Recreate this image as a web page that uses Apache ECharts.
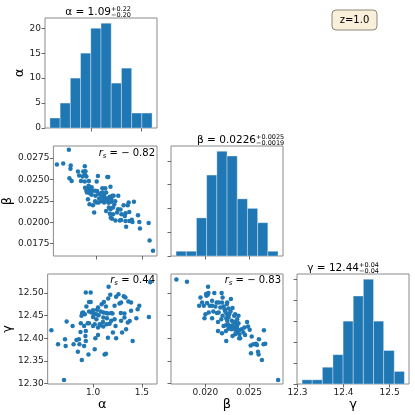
<!DOCTYPE html>
<html>
<head>
<meta charset="utf-8">
<script src="https://cdn.jsdelivr.net/npm/echarts@6/dist/echarts.min.js"></script>
<style>
html, body { margin: 0; padding: 0; background: #fff; }
#main { width: 415px; height: 415px; }
</style>
</head>
<body>
<div id="main"></div>
<script>
// histogram bins (edges) and counts
var alphaEdges = [0.585, 0.687, 0.789, 0.891, 0.993, 1.095, 1.197, 1.299, 1.401, 1.503, 1.605];
var alphaCounts = [2, 5, 10, 15, 20, 21, 9, 12, 3, 3];
var betaEdges = [0.01663, 0.01780, 0.01897, 0.02014, 0.02131, 0.02248, 0.02365, 0.02482, 0.02599, 0.02716, 0.02833];
var betaCounts = [1, 1, 8, 17, 22, 21, 12, 10, 7, 1];
var gammaEdges = [12.310, 12.332, 12.354, 12.377, 12.399, 12.421, 12.443, 12.465, 12.487, 12.510, 12.532];
var gammaCounts = [1, 1, 4, 7, 15, 21, 25, 15, 8, 3];

// axis ranges and ticks
var alphaRange = [0.536, 1.654];
var betaRange = [0.01605, 0.02890];
var gammaRange = [12.299, 12.542];
var alphaTicks = [1.0, 1.5];
var betaXTicks = [0.020, 0.025];
var betaYTicks = [0.0175, 0.0200, 0.0225, 0.0250, 0.0275];
var gammaXTicks = [12.3, 12.4, 12.5];
var gammaYTicks = [12.30, 12.35, 12.40, 12.45, 12.50];
var alphaHistTicks = [0, 5, 10, 15, 20];
var betaHistTicks = [0, 5, 10, 15, 20];
var gammaHistTicks = [0, 5, 10, 15, 20, 25];
var histMax = [22.05, 23.1, 26.25];

// samples: [alpha, beta]
var abPoints = [
  [0.703, 0.02845], [0.574, 0.02675], [0.642, 0.02687], [0.723, 0.02663], [0.720, 0.02624],
  [0.875, 0.02652], [0.801, 0.02592], [0.858, 0.02592], [0.875, 0.02561], [0.851, 0.02533],
  [0.892, 0.02533], [0.709, 0.02514], [0.733, 0.02482], [1.017, 0.02541], [1.118, 0.02529],
  [1.128, 0.02529], [0.834, 0.02482], [0.875, 0.02474], [0.919, 0.02482], [1.003, 0.02474],
  [0.878, 0.02403], [0.912, 0.02388], [0.936, 0.02368], [0.899, 0.02348], [0.932, 0.02336],
  [0.956, 0.02368], [1.007, 0.02364], [1.064, 0.02395], [1.095, 0.02395], [1.152, 0.02415],
  [1.020, 0.02328], [1.051, 0.02340], [0.990, 0.02309], [1.030, 0.02277], [1.057, 0.02301],
  [1.078, 0.02269], [1.101, 0.02269], [1.122, 0.02281], [1.145, 0.02297], [1.162, 0.02269],
  [1.186, 0.02309], [1.236, 0.02309], [0.909, 0.02269], [0.926, 0.02210], [0.963, 0.02198],
  [0.986, 0.02246], [1.000, 0.02230], [1.024, 0.02230], [1.051, 0.02246], [1.084, 0.02230],
  [1.118, 0.02246], [1.132, 0.02226], [1.159, 0.02238], [0.976, 0.02112], [1.105, 0.02131],
  [1.152, 0.02151], [1.179, 0.02171], [1.233, 0.02151], [1.179, 0.02092], [1.145, 0.02100],
  [1.155, 0.02053], [1.169, 0.02041], [1.260, 0.02147], [1.294, 0.02198], [1.348, 0.02230],
  [1.405, 0.02238], [1.270, 0.02092], [1.314, 0.02104], [1.355, 0.02120], [1.307, 0.02072],
  [1.267, 0.02025], [1.314, 0.02013], [1.355, 0.02013], [1.382, 0.02029], [1.253, 0.02021],
  [1.449, 0.02080], [1.321, 0.01946], [1.389, 0.02001], [1.463, 0.02001], [1.470, 0.01927],
  [1.564, 0.01990], [1.574, 0.01785], [1.611, 0.01667], [1.206, 0.02021], [1.223, 0.02112],
  [1.135, 0.02171], [1.193, 0.02206], [1.084, 0.02309], [1.105, 0.02348], [0.949, 0.02321],
  [0.916, 0.02427], [0.892, 0.02368], [0.983, 0.02368], [0.949, 0.02407], [0.814, 0.02545],
  [0.882, 0.02596], [1.068, 0.02348], [1.203, 0.02246], [1.338, 0.02198], [1.172, 0.02309]
];

// samples: [alpha, gamma]
var agPoints = [
  [0.703, 12.308], [0.574, 12.418], [0.642, 12.387], [0.720, 12.383], [0.713, 12.398],
  [0.730, 12.437], [0.791, 12.427], [0.801, 12.387], [0.845, 12.370], [0.861, 12.387],
  [0.885, 12.352], [0.909, 12.383], [0.953, 12.364], [1.017, 12.376], [1.118, 12.364],
  [1.132, 12.366], [0.922, 12.405], [0.926, 12.416], [0.875, 12.433], [0.872, 12.414],
  [0.909, 12.427], [0.946, 12.433], [0.959, 12.433], [0.926, 12.501], [0.976, 12.501],
  [0.959, 12.480], [0.976, 12.480], [0.932, 12.470], [0.959, 12.459], [1.000, 12.462],
  [1.010, 12.455], [1.041, 12.463], [1.057, 12.451], [1.034, 12.453], [1.000, 12.447],
  [1.034, 12.442], [1.068, 12.431], [1.101, 12.436], [1.105, 12.446], [1.078, 12.459],
  [1.088, 12.475], [1.111, 12.480], [1.132, 12.470], [1.155, 12.488], [1.159, 12.514],
  [1.176, 12.496], [1.199, 12.455], [1.152, 12.455], [1.135, 12.456], [1.105, 12.457],
  [1.142, 12.444], [1.169, 12.432], [1.186, 12.439], [1.220, 12.442], [1.230, 12.427],
  [1.152, 12.401], [1.236, 12.400], [1.297, 12.413], [1.338, 12.420], [1.355, 12.435],
  [1.321, 12.455], [1.284, 12.456], [1.270, 12.477], [1.236, 12.492], [1.260, 12.497],
  [1.314, 12.493], [1.331, 12.490], [1.361, 12.481], [1.389, 12.479], [1.389, 12.461],
  [1.443, 12.444], [1.375, 12.438], [1.405, 12.394], [1.456, 12.464], [1.473, 12.472],
  [1.571, 12.447], [1.051, 12.424], [1.051, 12.407], [1.024, 12.400], [0.926, 12.394],
  [0.855, 12.398], [0.831, 12.396], [1.000, 12.427], [1.078, 12.429], [1.139, 12.431],
  [0.916, 12.453], [0.882, 12.450], [0.889, 12.456], [0.983, 12.457], [1.017, 12.431],
  [1.105, 12.426], [1.203, 12.413], [1.287, 12.439], [1.321, 12.446], [0.899, 12.457],
  [1.051, 12.468], [1.186, 12.456], [1.220, 12.472], [1.287, 12.479], [1.584, 12.524]
];

// samples: [beta, gamma]
var bgPoints = [
  [0.01667, 12.530], [0.01788, 12.525], [0.02030, 12.514], [0.01943, 12.490], [0.01928, 12.472],
  [0.02008, 12.498], [0.02027, 12.496], [0.02011, 12.494], [0.02034, 12.500], [0.02102, 12.500],
  [0.02129, 12.479], [0.02186, 12.500], [0.02190, 12.479], [0.02197, 12.490], [0.02250, 12.479],
  [0.02292, 12.487], [0.01981, 12.472], [0.02019, 12.478], [0.02000, 12.453], [0.01989, 12.444],
  [0.02076, 12.444], [0.02091, 12.459], [0.02114, 12.470], [0.02133, 12.456], [0.02152, 12.457],
  [0.02144, 12.436], [0.02171, 12.468], [0.02208, 12.470], [0.02220, 12.464], [0.02227, 12.459],
  [0.02243, 12.455], [0.02258, 12.451], [0.02273, 12.453], [0.02311, 12.467], [0.02330, 12.450],
  [0.02379, 12.450], [0.02239, 12.444], [0.02197, 12.450], [0.02265, 12.466], [0.02235, 12.429],
  [0.02258, 12.431], [0.02280, 12.427], [0.02296, 12.426], [0.02311, 12.429], [0.02330, 12.424],
  [0.02352, 12.433], [0.02364, 12.427], [0.02379, 12.433], [0.02265, 12.421], [0.02299, 12.420],
  [0.02341, 12.419], [0.02368, 12.420], [0.02387, 12.418], [0.02417, 12.420], [0.02478, 12.436],
  [0.02489, 12.426], [0.02508, 12.419], [0.02144, 12.416], [0.02190, 12.411], [0.02239, 12.394],
  [0.02341, 12.409], [0.02360, 12.413], [0.02387, 12.400], [0.02398, 12.400], [0.02455, 12.407],
  [0.02531, 12.404], [0.02519, 12.384], [0.02580, 12.388], [0.02591, 12.385], [0.02614, 12.398],
  [0.02671, 12.418], [0.02667, 12.387], [0.02686, 12.388], [0.02603, 12.370], [0.02523, 12.367],
  [0.02610, 12.364], [0.02648, 12.352], [0.02834, 12.308], [0.02235, 12.416], [0.02311, 12.405],
  [0.02436, 12.413], [0.02265, 12.446], [0.02341, 12.453], [0.02246, 12.476], [0.02152, 12.479],
  [0.02076, 12.483], [0.02049, 12.472], [0.02182, 12.442], [0.02303, 12.439], [0.02334, 12.436],
  [0.02390, 12.409], [0.02550, 12.387], [0.02447, 12.424], [0.02208, 12.427], [0.02250, 12.439],
  [0.02288, 12.459], [0.02364, 12.442], [0.02076, 12.472], [0.02038, 12.457], [0.01962, 12.479]
];

var FONT = '"DejaVu Sans", sans-serif';
var BLUE = '#1f77b4';
var cols = [45, 171, 297];
var rows = [18, 146, 274];

function grid(c, r) {
    return { left: cols[c], top: rows[r], width: 112, height: 110,
             show: true, borderColor: '#8a8a8a', borderWidth: 1, backgroundColor: 'transparent' };
}

function axis(gi, min, max, ticks, showLabel, fmt, name, gap, isY) {
    return {
        type: 'value', gridIndex: gi, min: min, max: max,
        axisLine: { show: false },
        splitLine: { show: false },
        axisTick: { show: true, inside: false, length: 3.5,
                    lineStyle: { color: '#444', width: 0.8 }, customValues: ticks },
        axisLabel: { show: showLabel, customValues: ticks, formatter: fmt,
                     fontSize: 9, color: '#222', fontFamily: FONT, margin: 4 },
        name: name || '', nameLocation: 'middle', nameGap: gap || 0,
        nameRotate: isY ? 90 : 0,
        nameTextStyle: { fontSize: 13, color: '#000', fontFamily: FONT }
    };
}

function fx(n) { return function (v) { return v.toFixed(n); }; }

function histData(edges, counts) {
    return counts.map(function (c, i) { return [edges[i], edges[i + 1], c]; });
}

function histSeries(idx, edges, counts) {
    return {
        type: 'custom', xAxisIndex: idx, yAxisIndex: idx,
        data: histData(edges, counts),
        encode: { x: [0, 1], y: 2 },
        renderItem: function (params, api) {
            var a = api.coord([api.value(0), 0]);
            var b = api.coord([api.value(1), api.value(2)]);
            return {
                type: 'rect',
                shape: { x: a[0], y: b[1], width: b[0] - a[0], height: a[1] - b[1] },
                style: { fill: BLUE, stroke: 'rgba(255,255,255,0.35)', lineWidth: 1 }
            };
        }
    };
}

function scatterSeries(idx, pts) {
    return {
        type: 'scatter', xAxisIndex: idx, yAxisIndex: idx,
        data: pts, symbolSize: 4.5,
        itemStyle: { color: BLUE, opacity: 1 }
    };
}

function titleParts(xr, yc, main, up, down) {
    return [
        { type: 'text', x: xr, y: yc,
          style: { text: main, font: '10.5px ' + FONT, fill: '#000', textAlign: 'right', textVerticalAlign: 'middle' } },
        { type: 'text', x: xr, y: yc - 2.5,
          style: { text: up, font: '6.5px ' + FONT, fill: '#000', textAlign: 'left', textVerticalAlign: 'middle' } },
        { type: 'text', x: xr, y: yc + 3.5,
          style: { text: down, font: '6.5px ' + FONT, fill: '#000', textAlign: 'left', textVerticalAlign: 'middle' } }
    ];
}

function rsText(xr, yc, val) {
    return {
        type: 'text', x: xr, y: yc,
        style: {
            text: '{i|r}{s|s}{n| = ' + val + '}',
            textAlign: 'right', textVerticalAlign: 'middle',
            rich: {
                i: { fontSize: 10, fontStyle: 'italic', fontFamily: FONT, color: '#000', lineHeight: 14, verticalAlign: 'middle' },
                s: { fontSize: 7, fontStyle: 'italic', fontFamily: FONT, color: '#000', lineHeight: 14, verticalAlign: 'bottom' },
                n: { fontSize: 10, fontFamily: FONT, color: '#000', lineHeight: 14, verticalAlign: 'middle' }
            }
        }
    };
}

var chart = echarts.init(document.getElementById('main'), null, { renderer: 'canvas' });

var graphics = []
    .concat(titleParts(111, 12, 'α = 1.09', '+0.22', '−0.20'))
    .concat(titleParts(256, 140, 'β = 0.0226', '+0.0025', '−0.0019'))
    .concat(titleParts(359, 268, 'γ = 12.44', '+0.04', '−0.04'))
    .concat([
        rsText(155, 153, '− 0.82'),
        rsText(155, 280, '0.44'),
        rsText(281, 280, '− 0.83'),
        { type: 'rect', shape: { x: 332, y: 10, width: 45, height: 20, r: 4 },
          style: { fill: '#faefd9', stroke: '#8c8579', lineWidth: 1 } },
        { type: 'text', x: 354.5, y: 20.5,
          style: { text: 'z=1.0', font: '10px ' + FONT, fill: '#000', textAlign: 'center', textVerticalAlign: 'middle' } }
    ]);

option = {
    animation: false,
    grid: [grid(0, 0), grid(0, 1), grid(1, 1), grid(0, 2), grid(1, 2), grid(2, 2)],
    xAxis: [
        axis(0, alphaRange[0], alphaRange[1], alphaTicks, false),
        axis(1, alphaRange[0], alphaRange[1], alphaTicks, false),
        axis(2, betaRange[0], betaRange[1], betaXTicks, false),
        axis(3, alphaRange[0], alphaRange[1], alphaTicks, true, fx(1), 'α', 13),
        axis(4, betaRange[0], betaRange[1], betaXTicks, true, fx(3), 'β', 13),
        axis(5, gammaRange[0], gammaRange[1], gammaXTicks, true, fx(1), 'γ', 13)
    ],
    yAxis: [
        axis(0, 0, histMax[0], alphaHistTicks, true, fx(0), 'α', 15, true),
        axis(1, betaRange[0], betaRange[1], betaYTicks, true, fx(4), 'β', 34, true),
        axis(2, 0, histMax[1], betaHistTicks, false),
        axis(3, gammaRange[0], gammaRange[1], gammaYTicks, true, fx(2), 'γ', 29, true),
        axis(4, gammaRange[0], gammaRange[1], gammaYTicks, false),
        axis(5, 0, histMax[2], gammaHistTicks, false)
    ],
    series: [
        histSeries(0, alphaEdges, alphaCounts),
        scatterSeries(1, abPoints),
        histSeries(2, betaEdges, betaCounts),
        scatterSeries(3, agPoints),
        scatterSeries(4, bgPoints),
        histSeries(5, gammaEdges, gammaCounts)
    ],
    graphic: graphics
};
chart.setOption(option);
</script>
</body>
</html>
